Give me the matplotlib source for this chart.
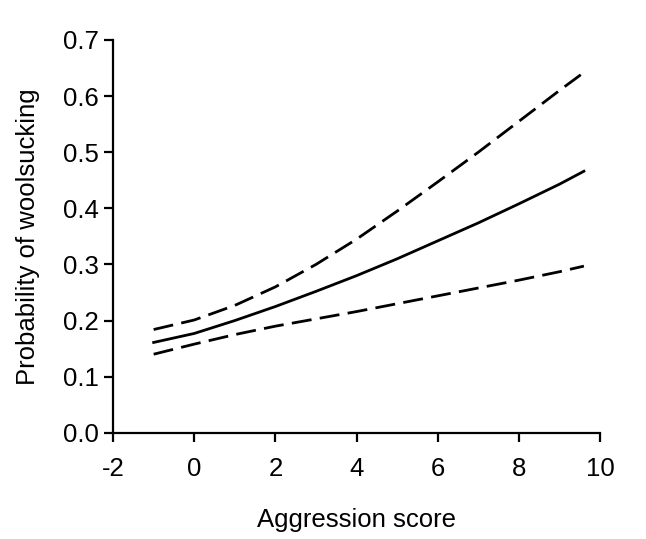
import matplotlib
matplotlib.use("Agg")
import matplotlib.pyplot as plt

plt.rcParams["font.family"] = ["Liberation Sans", "DejaVu Sans"]

# values
score = [-1, 0, 1, 2, 3, 4, 5, 6, 7, 8, 9, 9.6]
prob_fit = [0.161, 0.177, 0.200, 0.225, 0.252, 0.280, 0.310, 0.342, 0.374, 0.408, 0.443, 0.466]
prob_upper = [0.184, 0.201, 0.227, 0.260, 0.300, 0.345, 0.395, 0.447, 0.500, 0.555, 0.610, 0.642]
prob_lower = [0.140, 0.158, 0.175, 0.190, 0.203, 0.216, 0.230, 0.244, 0.258, 0.272, 0.287, 0.297]

xticks = [-2, 0, 2, 4, 6, 8, 10]
yticks = [0.0, 0.1, 0.2, 0.3, 0.4, 0.5, 0.6, 0.7]

fig = plt.figure(figsize=(6.46, 5.39), dpi=100)
ax = fig.add_axes([0.175, 0.197, 0.754, 0.729])

ax.plot(score, prob_fit, color="black", lw=2)
ax.plot(score, prob_upper, color="black", lw=2, dashes=(7.2, 3))
ax.plot(score, prob_lower, color="black", lw=2, dashes=(7.2, 3))

ax.set_xlim(-2, 10)
ax.set_ylim(0, 0.7)
ax.set_xticks(xticks)
ax.set_xticklabels([str(t) for t in xticks])
ax.set_yticks(yticks)
ax.set_yticklabels([f"{t:.1f}" for t in yticks])

for s in ["top", "right"]:
    ax.spines[s].set_visible(False)
for s in ["left", "bottom"]:
    ax.spines[s].set_linewidth(1.6)
ax.tick_params(direction="out", length=6.5, width=1.6, labelsize=18.5)
ax.tick_params(axis="x", pad=11)
ax.tick_params(axis="y", pad=4)

ax.set_xlabel("Aggression score", fontsize=18.5, labelpad=19)
ax.set_ylabel("Probability of woolsucking", fontsize=18.5, labelpad=16)

fig.savefig("out.png", dpi=100)
